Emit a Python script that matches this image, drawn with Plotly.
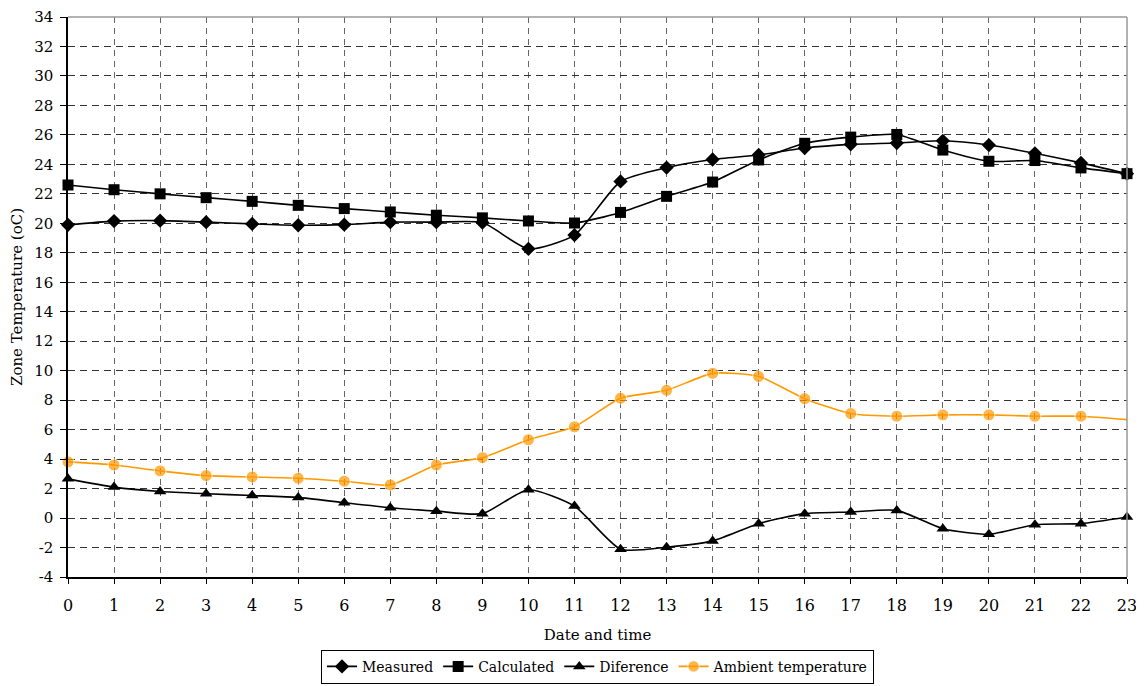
import plotly.graph_objects as go

hours = list(range(24))
measured = [19.9, 20.15, 20.18, 20.08, 19.96, 19.87, 19.91, 20.08, 20.08, 20.05, 18.27, 19.2,
            22.84, 23.78, 24.33, 24.64, 25.11, 25.36, 25.45, 25.6, 25.31, 24.75, 24.1, 23.37]
calculated = [22.6, 22.28, 22.0, 21.74, 21.49, 21.22, 21.0, 20.77, 20.55, 20.37, 20.16, 20.02,
              20.74, 21.83, 22.8, 24.3, 25.43, 25.85, 26.03, 24.97, 24.21, 24.26, 23.76, 23.37]
difference = [2.66, 2.1, 1.8, 1.65, 1.53, 1.4, 1.04, 0.7, 0.47, 0.3, 1.92, 0.81,
              -2.11, -1.98, -1.55, -0.38, 0.3, 0.41, 0.52, -0.72, -1.1, -0.45, -0.38, 0.07]
ambient = [3.81, 3.6, 3.2, 2.88, 2.79, 2.7, 2.5, 2.25, 3.6, 4.1, 5.31, 6.19,
           8.13, 8.67, 9.82, 9.61, 8.1, 7.09, 6.91, 7.0, 7.0, 6.91, 6.91, 6.68]
y_ticks = list(range(-4, 35, 2))

FONT = "DejaVu Serif"
fig = go.Figure()

def add(name, vals, symbol, color, sizes):
    fig.add_trace(go.Scatter(
        x=hours, y=vals, name=name, mode="lines+markers",
        line=dict(color=color, width=1.6, shape="spline", smoothing=0.6),
        marker=dict(symbol=symbol, color=color, size=sizes),
        cliponaxis=False,
    ))

add("Measured", measured, "diamond", "black", 11)
add("Calculated", calculated, "square", "black", 11)
add("Diference", difference, "triangle-up", "black", 11)
amb_sizes = [12] * (len(hours) - 1) + [0]
add("Ambient temperature", ambient, "circle", "#FF9900", amb_sizes)

fig.update_layout(
    width=1136, height=678,
    margin=dict(l=60, r=17, t=9, b=109, autoexpand=False),
    paper_bgcolor="white", plot_bgcolor="white",
    font=dict(family=FONT, size=15, color="black"),
    showlegend=True,
    legend=dict(orientation="h", x=0.5, xanchor="center", y=-0.13, yanchor="top",
                bordercolor="black", borderwidth=1, font=dict(size=14),
                tracegroupgap=0, itemwidth=30),
    xaxis=dict(range=[0, 23], tickmode="array", tickvals=hours, ticktext=[str(h) for h in hours],
               automargin=False, ticklabeloverflow="allow",
               showgrid=True, gridcolor="#666666", griddash="6px,5px", gridwidth=1,
               showline=True, linecolor="black", linewidth=1.5,
               ticks="outside", ticklen=5, tickcolor="black", ticklabelstandoff=8,
               zeroline=False,
               title=dict(text="Date and time", standoff=16, font=dict(size=15)),
               tickfont=dict(size=16)),
    yaxis=dict(range=[-4, 34], tickmode="array", tickvals=y_ticks, ticktext=[str(v) for v in y_ticks],
               automargin=False, ticklabeloverflow="allow",
               showgrid=True, gridcolor="#333333", griddash="7px,5px", gridwidth=1,
               showline=True, linecolor="black", linewidth=1.5,
               ticks="outside", ticklen=6, tickcolor="black", ticklabelstandoff=4,
               zeroline=False,
               title=dict(text="Zone Temperature (oC)", standoff=8, font=dict(size=15)),
               tickfont=dict(size=15)),
    shapes=[
        dict(type="line", xref="paper", yref="paper", x0=0, x1=1, y0=1, y1=1,
             line=dict(color="#999999", width=1.5)),
        dict(type="line", xref="paper", yref="paper", x0=1, x1=1, y0=0, y1=1,
             line=dict(color="#999999", width=1.5)),
    ],
)

fig.write_html("out.html")
